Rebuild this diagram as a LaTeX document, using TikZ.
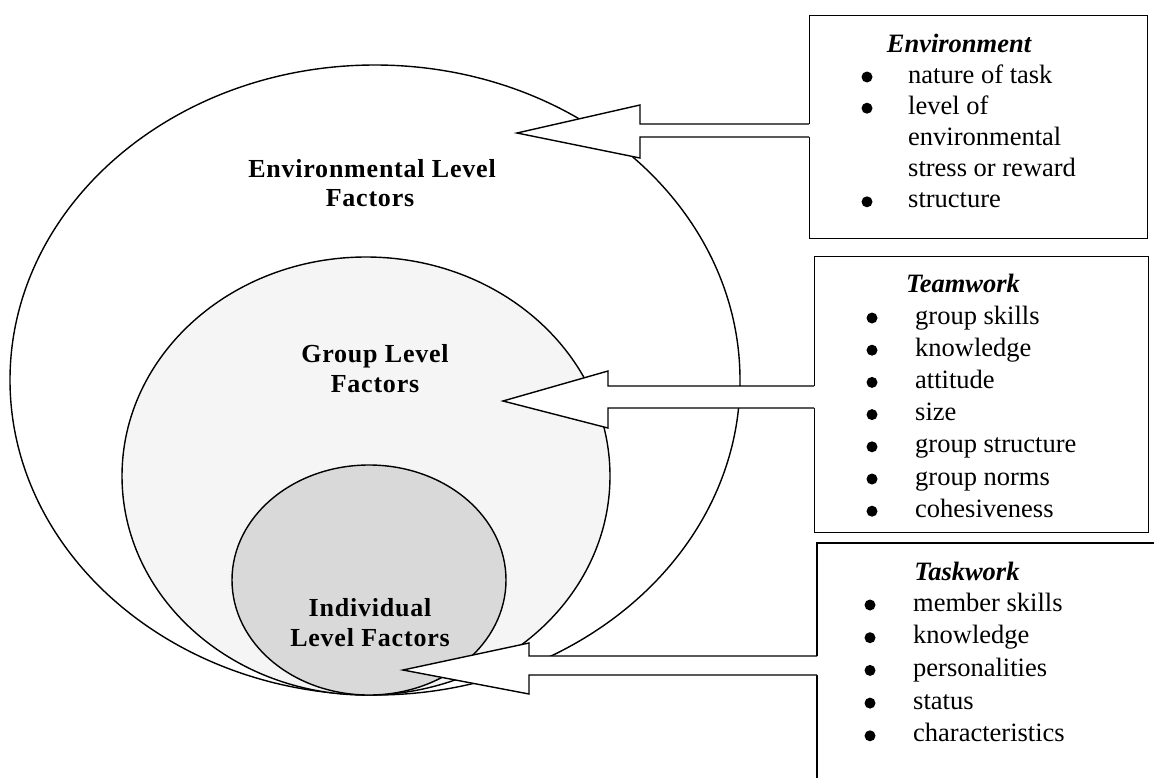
\documentclass[tikz,border=0pt]{standalone}
\usepackage{fontspec}
\setmainfont{Liberation Serif}
\newfontfamily\levelfont[LetterSpace=3]{Liberation Serif}
\usetikzlibrary{shapes.geometric}
\begin{document}
\begin{tikzpicture}[x=1pt,y=-1pt,
  ring/.style={draw=black,line width=1.4pt,ellipse,inner sep=0pt},
  level/.style={font=\fontsize{26}{30}\levelfont\bfseries,align=center,inner sep=0pt,anchor=base},
  listbox/.style={line width=1.4pt,inner sep=0pt,anchor=north west},
  entry/.style={anchor=base west,inner sep=0pt,font=\fontsize{26.5}{30}\selectfont},
  heading/.style={anchor=base,inner sep=0pt,font=\fontsize{26.5}{30}\selectfont\bfseries\itshape},
  dot/.style={fill=black},
  blockarrow/.style={draw=black,line width=1.4pt,line join=miter},
]
\useasboundingbox (0,0) rectangle (1154,777);
\fill[white] (0,0) rectangle (1154,777);

% nested levels
\node[ring,fill=white,minimum width=730pt,minimum height=630pt] (envring) at (375,380) {};
\node[ring,fill=gray!8,minimum width=488pt,minimum height=438pt] (groupring) at (366,476) {};
\node[ring,fill=gray!30,minimum width=274pt,minimum height=230pt] (indring) at (369,580) {};

\node[level] (envlabel1) at (372,177) {Environmental Level};
\node[level] (envlabel2) at (370,206) {Factors};
\node[level] (grouplabel1) at (375,362) {Group Level};
\node[level] (grouplabel2) at (375,392) {Factors};
\node[level] (indlabel1) at (370,616) {Individual};
\node[level] (indlabel2) at (370,646) {Level Factors};

% list boxes
\node[listbox,draw=black,minimum width=338pt,minimum height=223pt] (envbox) at (809,15) {};
\node[listbox,draw=black,minimum width=334pt,minimum height=276pt] (teambox) at (814,256) {};
\node[listbox,minimum width=336pt,minimum height=260pt] (taskbox) at (817,543) {};
\draw[line width=1.4pt] (taskbox.south west) -- (taskbox.north west) -- (taskbox.north east);
\draw[line width=1.2pt,gray!45] (taskbox.north east) -- (taskbox.south east);

% Environment list
\node[heading] (envhead) at (959,52) {Environment};
\foreach \t/\b [count=\i] in {nature of task/1,level of/1,environmental/0,stress or reward/0,structure/1}{
  \node[entry] (env\i) at (908,{83+31.2*(\i-1)}) {\t};
  \ifnum\b=1 \fill[dot] (867,{77+31.2*(\i-1)}) circle (5.5pt); \fi
}

% Teamwork list
\node[heading] (teamhead) at (963,292) {Teamwork};
\foreach \t [count=\i] in {group skills,knowledge,attitude,size,group structure,group norms,cohesiveness}{
  \node[entry] (team\i) at (915,{324+32.2*(\i-1)}) {\t};
  \fill[dot] (872,{318+32.2*(\i-1)}) circle (5.5pt);
}

% Taskwork list
\node[heading] (taskhead) at (967,580) {Taskwork};
\foreach \t [count=\i] in {member skills,knowledge,personalities,status,characteristics}{
  \node[entry] (task\i) at (913,{611+32.7*(\i-1)}) {\t};
  \fill[dot] (870,{605+32.7*(\i-1)}) circle (5.5pt);
}

% block arrows from each box into its level
\coordinate (envtip) at (517,133);
\coordinate (envA) at (envbox.west |- 0,124);
\coordinate (envB) at (envbox.west |- 0,137);
\fill[white] ([xshift=1.5pt]envA) -- (640,124) -- (640,105) -- (envtip) -- (640,158) -- (640,137) -- ([xshift=1.5pt]envB) -- cycle;
\draw[blockarrow] (envA) -- (640,124) -- (640,105) -- (envtip) -- (640,158) -- (640,137) -- (envB);

\coordinate (teamtip) at (503,401);
\coordinate (teamA) at (teambox.west |- 0,386);
\coordinate (teamB) at (teambox.west |- 0,408);
\fill[white] ([xshift=1.5pt]teamA) -- (608,386) -- (608,371) -- (teamtip) -- (608,428) -- (608,408) -- ([xshift=1.5pt]teamB) -- cycle;
\draw[blockarrow] (teamA) -- (608,386) -- (608,371) -- (teamtip) -- (608,428) -- (608,408) -- (teamB);

\coordinate (tasktip) at (403,670);
\coordinate (taskA) at (taskbox.west |- 0,656);
\coordinate (taskB) at (taskbox.west |- 0,675);
\fill[white] ([xshift=1.5pt]taskA) -- (529,656) -- (529,643) -- (tasktip) -- (529,694) -- (529,675) -- ([xshift=1.5pt]taskB) -- cycle;
\draw[blockarrow] (taskA) -- (529,656) -- (529,643) -- (tasktip) -- (529,694) -- (529,675) -- (taskB);
\end{tikzpicture}
\end{document}
